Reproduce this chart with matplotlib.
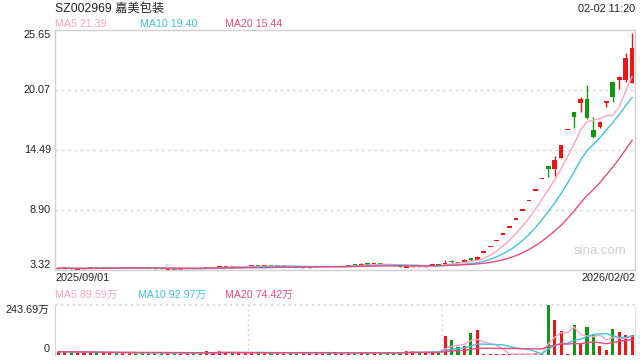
import matplotlib
matplotlib.use("Agg")
import matplotlib.pyplot as plt
import numpy as np
import pandas as pd

plt.rcParams['font.family'] = ['Liberation Sans', 'Noto Sans CJK SC', 'DejaVu Sans']

title = "SZ002969 嘉美包装"
timestamp = "02-02 11:20"
date_start = "2025/09/01"
date_end = "2026/02/02"
price_ticks = [3.32, 8.90, 14.49, 20.07, 25.65]
price_tick_labels = ["3.32", "8.90", "14.49", "20.07", "25.65"]
vol_ticks = [0, 243.69]
vol_tick_labels = ["0", "243.69万"]
price_ma_labels = ["MA5 21.39", "MA10 19.40", "MA20 15.44"]
vol_ma_labels = ["MA5 89.59万", "MA10 92.97万", "MA20 74.42万"]

opens = [3.44, 3.47, 3.50, 3.40, 3.44, 3.47, 3.51, 3.48, 3.52, 3.55,
         3.52, 3.55, 3.57, 3.54, 3.51, 3.49, 3.45, 3.40, 3.43, 3.40,
         3.44, 3.49, 3.47, 3.47, 3.53, 3.56, 3.62, 3.64, 3.61, 3.64,
         3.66, 3.68, 3.66, 3.74, 3.70, 3.67, 3.68, 3.64, 3.52, 3.56,
         3.59, 3.62, 3.64, 3.62, 3.65, 3.67, 3.80, 3.78, 3.92, 3.86,
         3.89, 3.84, 3.79, 3.76, 3.60, 3.62, 3.64, 3.62, 3.72, 3.84,
         3.88, 4.16, 4.06, 4.06, 4.44, 4.25, 5.01, 5.51, 6.06, 6.67,
         7.34, 8.07, 8.88, 9.77, 10.75, 11.83, 13.01, 12.75, 13.74, 16.40,
         18.04, 18.88, 19.22, 16.34, 16.59, 18.90, 20.80, 20.99, 20.99, 20.74]
closes = [3.48, 3.50, 3.46, 3.43, 3.47, 3.50, 3.48, 3.52, 3.55, 3.52,
          3.55, 3.57, 3.54, 3.51, 3.49, 3.45, 3.43, 3.42, 3.41, 3.43,
          3.48, 3.47, 3.46, 3.53, 3.56, 3.62, 3.64, 3.61, 3.64, 3.66,
          3.68, 3.66, 3.69, 3.70, 3.67, 3.68, 3.64, 3.58, 3.56, 3.59,
          3.62, 3.64, 3.62, 3.65, 3.67, 3.72, 3.78, 3.85, 3.88, 3.89,
          3.84, 3.79, 3.74, 3.66, 3.62, 3.64, 3.61, 3.66, 3.84, 3.80,
          4.00, 4.09, 4.00, 4.25, 4.22, 4.55, 5.01, 5.51, 6.06, 6.67,
          7.34, 8.07, 8.88, 9.77, 10.75, 11.83, 12.69, 13.55, 14.91, 16.40,
          17.58, 19.22, 17.46, 15.66, 17.08, 18.97, 19.44, 21.24, 23.04, 23.97]
highs = [3.50, 3.52, 3.51, 3.45, 3.48, 3.52, 3.52, 3.53, 3.56, 3.56,
         3.57, 3.58, 3.58, 3.55, 3.52, 3.50, 3.47, 3.44, 3.44, 3.44,
         3.49, 3.50, 3.48, 3.55, 3.57, 3.64, 3.65, 3.65, 3.66, 3.67,
         3.69, 3.69, 3.70, 3.76, 3.71, 3.70, 3.69, 3.65, 3.57, 3.60,
         3.63, 3.65, 3.65, 3.66, 3.68, 3.74, 3.84, 3.95, 3.94, 3.91,
         3.90, 3.85, 3.80, 3.77, 3.64, 3.65, 3.65, 3.67, 3.86, 3.86,
         4.25, 4.25, 4.08, 4.31, 4.47, 4.65, 5.01, 5.51, 6.06, 6.67,
         7.34, 8.07, 8.88, 9.77, 10.75, 11.83, 13.01, 13.92, 14.95, 16.40,
         18.04, 19.38, 20.50, 17.52, 17.21, 18.97, 20.85, 21.36, 23.47, 25.34]
lows = [3.42, 3.45, 3.44, 3.38, 3.42, 3.46, 3.46, 3.47, 3.50, 3.50,
        3.51, 3.53, 3.52, 3.50, 3.47, 3.42, 3.41, 3.38, 3.39, 3.38,
        3.43, 3.45, 3.44, 3.46, 3.52, 3.55, 3.60, 3.60, 3.60, 3.63,
        3.65, 3.64, 3.65, 3.69, 3.66, 3.65, 3.62, 3.57, 3.50, 3.55,
        3.58, 3.61, 3.61, 3.61, 3.64, 3.66, 3.75, 3.76, 3.84, 3.84,
        3.82, 3.77, 3.72, 3.64, 3.57, 3.60, 3.59, 3.61, 3.70, 3.78,
        3.86, 3.98, 3.97, 4.02, 4.15, 4.22, 5.01, 5.51, 6.06, 6.67,
        7.34, 8.07, 8.88, 9.77, 10.75, 11.83, 12.00, 12.06, 13.70, 16.40,
        16.55, 18.04, 17.40, 15.62, 16.55, 18.45, 18.91, 20.12, 20.80, 20.74]
volumes = [14, 13, 13, 12, 10, 11, 8, 9, 9, 8,
           9, 9, 8, 8, 9, 9, 8, 8, 7, 8,
           8, 7, 7, 17, 9, 16, 9, 8, 9, 9,
           9, 8, 8, 8, 8, 9, 8, 8, 10, 9,
           8, 8, 9, 8, 8, 9, 8, 8, 10, 8,
           9, 9, 8, 8, 18, 17, 10, 13, 13, 15,
           90.6, 70.8, 36.2, 41.2, 105.4, 120.2, 3.3, 2.5, 3.0, 2.5,
           2.0, 2.0, 2.5, 2.0, 5.0, 6.0, 243.69, 170.0, 115.0, 3.3,
           145.0, 57.6, 135.0, 100.4, 41.2, 21.4, 125.1, 110.3, 95.0, 95.0]

RED = '#f01515'
GREEN = '#119a11'
MA_COLORS = ['#ffa3c4', '#3cc6e2', '#ec4a80']
GRID = '#d8d8d8'
TXT = '#222222'

o = np.array(opens); c = np.array(closes); h = np.array(highs); l = np.array(lows)
v = np.array(volumes)
idx = np.arange(len(c))
up = c >= o
cols = np.where(up, RED, GREEN)

fig = plt.figure(figsize=(6.4, 3.6), dpi=100)
W, H = 640, 360
def rect(x0, y0, x1, y1):
    return [x0 / W, 1 - y1 / H, (x1 - x0) / W, (y1 - y0) / H]

ax = fig.add_axes(rect(55, 30, 635, 270))
axv = fig.add_axes(rect(55, 305, 635, 354.5))

# price panel
for y in price_ticks[1:-1]:
    ax.axhline(y, color=GRID, lw=1.0, ls=(0, (2, 2.5)), zorder=0)
ax.vlines(idx, l, h, colors=cols, lw=1.0, zorder=2)
body_h = np.abs(c - o)
minh = 0.14
bb = np.where(body_h < minh, (o + c) / 2 - minh / 2, np.minimum(o, c))
bh = np.maximum(body_h, minh)
ax.bar(idx, bh, bottom=bb, width=0.72, color=cols, linewidth=0, zorder=3)
s = pd.Series(c)
for n, col in zip([5, 10, 20], MA_COLORS):
    ax.plot(idx, s.rolling(n, min_periods=1).mean(), color=col, lw=1.0, zorder=4)
ax.set_xlim(-0.5, 89.45)
ax.set_ylim(price_ticks[0], price_ticks[-1])
ax.set_xticks([]); ax.set_yticks([])
for sp in ax.spines.values():
    sp.set_color('#d0d0d0'); sp.set_linewidth(1.0)
for val, lab in zip(price_ticks, price_tick_labels):
    va = 'center'
    if val == price_ticks[0]:
        va = 'bottom'
    elif val == price_ticks[-1]:
        va = 'top'
    ax.text(-0.007, val, lab, transform=ax.get_yaxis_transform(), ha='right', va=va,
            fontsize=7.8, color=TXT)
ax.text(0.94, 0.08, "sina.com", transform=ax.transAxes, ha='center', va='center',
        fontsize=9.5, color='#cfcfcf')

# volume panel
axv.bar(idx, v, width=0.48, color=cols, linewidth=0, zorder=2)
sv = pd.Series(v)
for n, col in zip([5, 10, 20], MA_COLORS):
    axv.plot(idx, sv.rolling(n, min_periods=1).mean(), color=col, lw=1.0, zorder=3)
axv.set_xlim(-0.5, 89.45)
axv.set_ylim(vol_ticks[0], vol_ticks[-1])
axv.set_xticks([]); axv.set_yticks([])
for xg in [29.5, 59.5]:
    axv.axvline(xg, color=GRID, lw=1.0, ls=(0, (1.5, 2)), zorder=0)
axv.axhline(vol_ticks[-1], color=GRID, lw=1.2, ls=(0, (1.5, 2)), zorder=0, clip_on=False)
axv.spines['top'].set_visible(False)
axv.spines['bottom'].set_visible(False)
axv.spines['left'].set_color('#d0d0d0')
axv.spines['right'].set_color(GRID)
axv.spines['right'].set_linestyle((0, (1.5, 2)))
axv.axhline(0, color=GRID, lw=1.0, ls=(0, (1.5, 2)), zorder=1)
for val, lab in zip(vol_ticks, vol_tick_labels):
    va = 'bottom' if val == vol_ticks[0] else 'top'
    axv.text(-0.009, val, lab, transform=axv.get_yaxis_transform(), ha='right', va=va,
             fontsize=7.8, color=TXT)

# header texts
fig.text(55 / W, 1 - 8.5 / H, title, ha='left', va='center', fontsize=8.8, color=TXT)
fig.text(635 / W, 1 - 8.5 / H, timestamp, ha='right', va='center', fontsize=7.8, color=TXT)
xs = [55, 140.5, 225]
for x, lab, col in zip(xs, price_ma_labels, MA_COLORS):
    fig.text(x / W, 1 - 24 / H, lab, ha='left', va='center', fontsize=7.7, color=col)
for x, lab, col in zip([55, 138, 225], vol_ma_labels, MA_COLORS):
    fig.text(x / W, 1 - 295 / H, lab, ha='left', va='center', fontsize=7.7, color=col)
fig.text(55 / W, 1 - 278 / H, date_start, ha='left', va='center', fontsize=7.8, color=TXT)
fig.text(635 / W, 1 - 278 / H, date_end, ha='right', va='center', fontsize=7.8, color=TXT)

fig.savefig("out.png", dpi=100)
